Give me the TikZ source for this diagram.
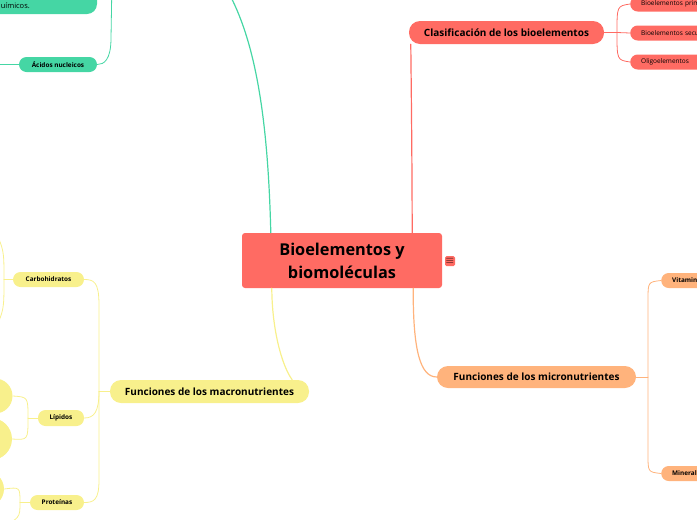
\documentclass[tikz,border=0pt]{standalone}
\usepackage{fontspec}
\setmainfont{Open Sans}
\usepackage{amssymb}
\usepackage{xcolor}
\usetikzlibrary{calc,positioning}
\definecolor{bred}{HTML}{FF6B63}
\definecolor{bgreen}{HTML}{45D6A4}
\definecolor{byellow}{HTML}{F8F08C}
\definecolor{borange}{HTML}{FFB37C}
\tikzset{
  central/.style={rectangle, fill=bred, rounded corners=3pt, minimum width=200pt,
    minimum height=55pt, align=center, font=\bfseries\fontsize{16.3}{23}\selectfont},
  mainbr/.style={rectangle, rounded corners=11pt, minimum height=23pt, inner sep=0pt,
    font=\bfseries\fontsize{10}{12}\selectfont},
  subbr/.style={rectangle, rounded corners=7.5pt, minimum height=15pt, inner sep=0pt,
    font=\bfseries\fontsize{6.4}{8}\selectfont},
  leafbr/.style={subbr, font=\fontsize{6.5}{8}\selectfont},
  conn/.style={line width=1.2pt},
  subconn/.style={line width=0.8pt},
  every picture/.style={line cap=round, line join=round}
}

\begin{document}
\begin{tikzpicture}[x=1pt, y=-1pt]
  \useasboundingbox (0,0) rectangle (697,520);
  \clip (0,0) rectangle (697,520);

  \node[central] (bio) at (342,260.5) {Bioelementos y\\biomoléculas};
  \node[rectangle, fill=bred, rounded corners=1.5pt, minimum size=10pt, inner sep=0pt,
    font=\fontsize{11}{11}\selectfont] (menu) at (450,261) {$\equiv$};

  % green branch
  \coordinate (gmain) at (226,-12);
  \coordinate (gpar) at (112,-20);
  \fill[bgreen, rounded corners=10pt] (-30,-40) rectangle (97,14);
  \node[anchor=west, inner sep=0pt, font=\fontsize{7.5}{9}\selectfont] (quim) at (-4,6.5) {químicos.};
  \node[subbr, fill=bgreen, minimum width=78pt] (acid) at (58,64.5) {Ácidos nucleicos};
  \coordinate (acidl) at (-10,64.5);

  % red branch
  \node[mainbr, fill=bred, minimum width=195pt] (clas) at (506.5,32.5) {Clasificación de los bioelementos};
  \node[leafbr, fill=bred, anchor=west, minimum width=140pt, text width=118pt] (bpri) at (630,4) {Bioelementos primarios};
  \node[leafbr, fill=bred, anchor=west, minimum width=140pt, text width=118pt] (bsec) at (630,33) {Bioelementos secundarios};
  \node[leafbr, fill=bred, anchor=west, minimum width=100pt, text width=78pt] (olig) at (630,62) {Oligoelementos};

  % orange branch
  \node[mainbr, fill=borange, minimum width=199pt, minimum height=22pt] (micro) at (536.5,377) {Funciones de los micronutrientes};
  \node[subbr, fill=borange, anchor=west, minimum width=80pt, text width=58pt] (vit) at (661,280.5) {Vitaminas};
  \node[subbr, fill=borange, anchor=west, minimum width=80pt, text width=58pt] (mine) at (661,473.5) {Minerales};

  % yellow branch
  \node[mainbr, fill=byellow, minimum width=199pt] (macro) at (209.5,391.5) {Funciones de los macronutrientes};
  \node[subbr, fill=byellow, minimum width=71pt] (carb) at (48.5,279.5) {Carbohidratos};
  \node[subbr, fill=byellow, minimum width=46pt, minimum height=16pt] (lip) at (61,418) {Lípidos};
  \node[subbr, fill=byellow, minimum width=54pt] (prot) at (57,502.5) {Proteínas};
  \node[circle, fill=byellow, minimum size=35pt] (lipa) at (-5,396) {};
  \node[circle, fill=byellow, minimum size=42pt] (lipb) at (-9,439) {};
  \node[circle, fill=byellow, minimum size=36pt] (prota) at (-14,489) {};
  \node[circle, fill=byellow, minimum size=36pt] (protb) at (-15,532) {};
  \coordinate (carbu) at (-6,228);
  \coordinate (carbd) at (-6,332);

  % main connectors
  \draw[conn, bgreen] ([xshift=29pt]bio.north west) .. controls (268,120) and (256,40) .. (gmain);
  \draw[conn, bred] ([xshift=-30pt]bio.north east) .. controls (412,140) and (411,70) .. ([xshift=2pt]clas.south west);
  \draw[conn, borange] ([xshift=-29pt]bio.south east) .. controls (413,350) and (420,377) .. (micro.west);
  \draw[conn, byellow] ([xshift=30pt]bio.south west) .. controls (272,330) and (282,366) .. ([xshift=-17pt]macro.north east);

  % sub connectors
  \draw[subconn, bgreen] (gpar) -- (111,38) .. controls (111,60) and (104,64.5) .. (acid.east);
  \draw[subconn, bgreen] (acid.west) -- (acidl);

  \draw[subconn, bred] (clas.east) -- (617,32.5);
  \draw[subconn, bred] (617,32.5) .. controls (617,6) .. (bpri.west);
  \draw[subconn, bred] (617,32.5) -- (bsec.west);
  \draw[subconn, bred] (617,32.5) .. controls (617,60) .. (olig.west);

  \draw[subconn, borange] (micro.east) -- (648,377);
  \draw[subconn, borange] (648,377) -- (648,300) .. controls (648,282) .. (vit.west);
  \draw[subconn, borange] (648,377) -- (648,455) .. controls (648,472) .. (mine.west);

  \draw[subconn, byellow] (macro.west) -- (99,391.5);
  \draw[subconn, byellow] (99,391.5) -- (99,305) .. controls (99,282) and (94,279.5) .. (carb.east);
  \draw[subconn, byellow] (99,391.5) .. controls (99,412) and (94,418) .. (lip.east);
  \draw[subconn, byellow] (99,391.5) -- (99,480) .. controls (99,500) and (94,502.5) .. (prot.east);

  \draw[subconn, byellow] (carb.west) -- (4,279.5);
  \draw[subconn, byellow] (4,279.5) .. controls (4,250) .. (carbu);
  \draw[subconn, byellow] (4,279.5) .. controls (4,310) .. (carbd);

  \draw[subconn, byellow] (lip.west) -- (28,418);
  \draw[subconn, byellow] (28,418) .. controls (28,397) .. (lipa.east);
  \draw[subconn, byellow] (28,418) .. controls (28,440) .. (lipb.east);

  \draw[subconn, byellow] (prot.west) -- (20,502.5);
  \draw[subconn, byellow] (20,502.5) .. controls (20,487) .. (prota.east);
  \draw[subconn, byellow] (20,502.5) .. controls (20,518) .. ([yshift=-10pt]protb.north east);
\end{tikzpicture}
\end{document}
